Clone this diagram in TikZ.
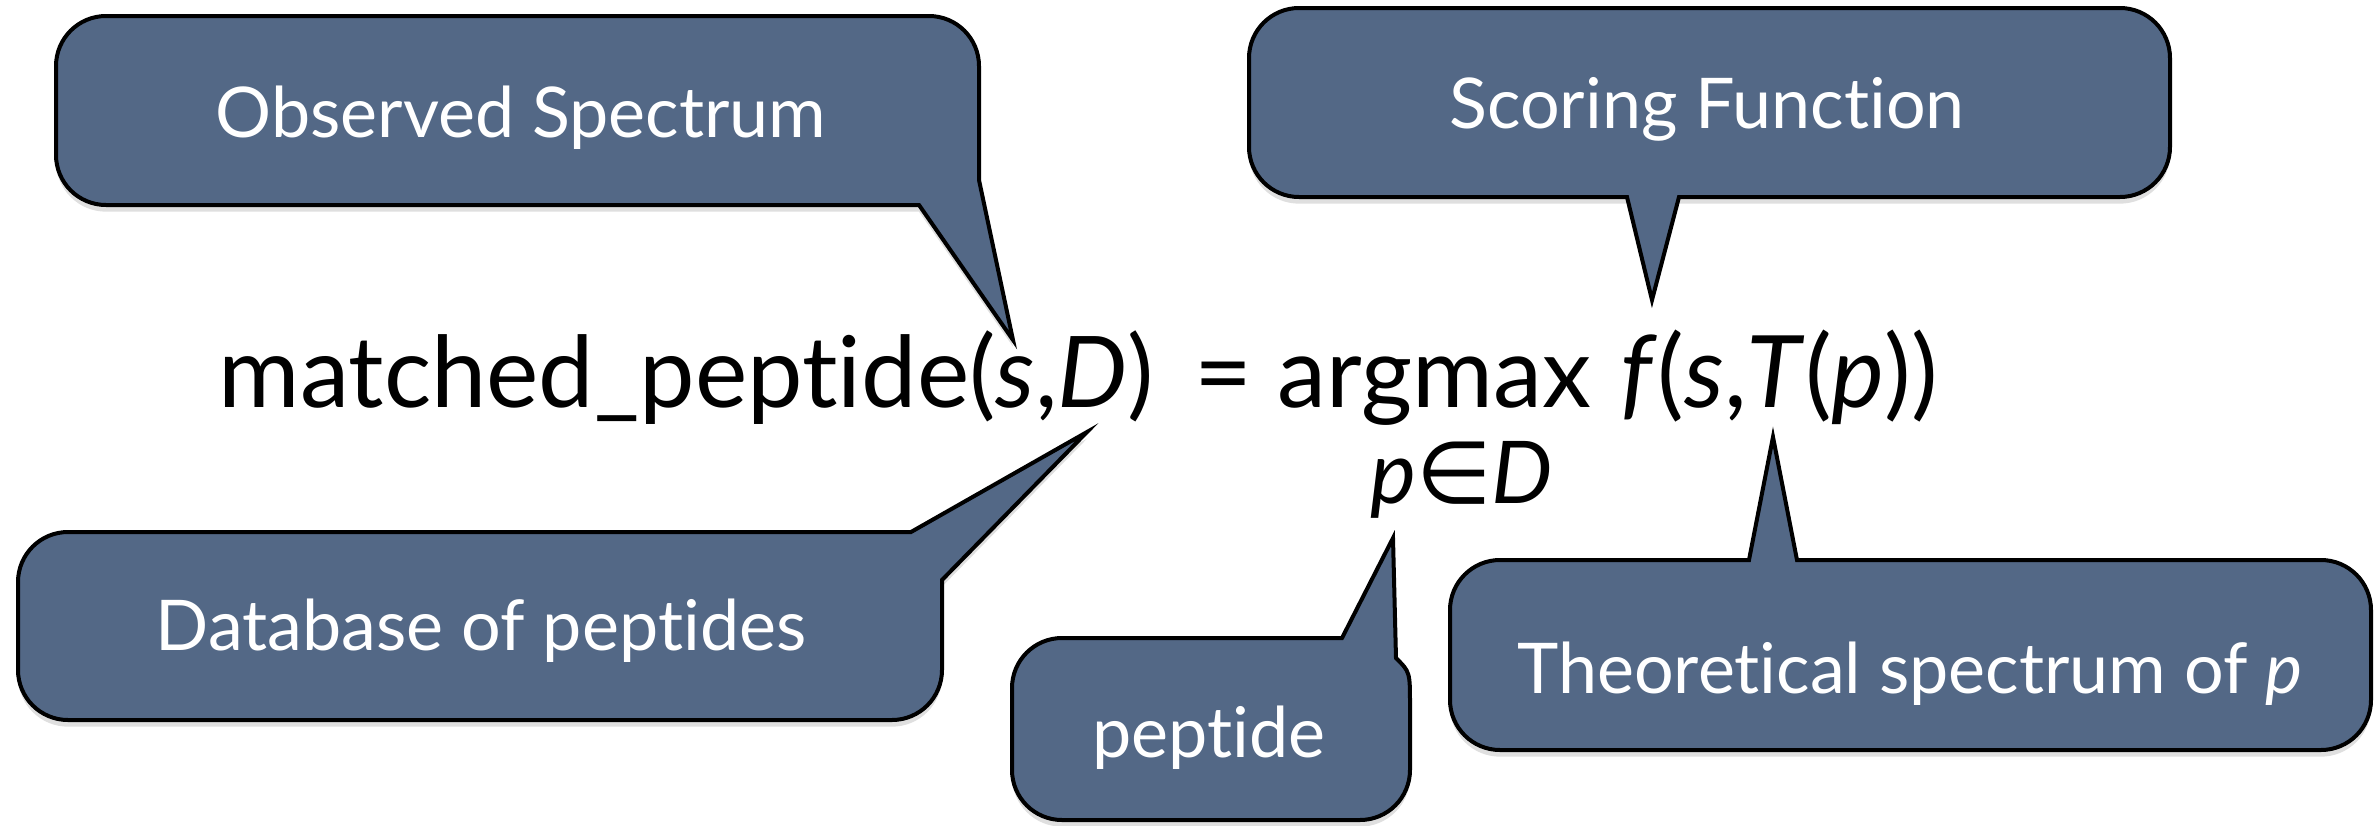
\documentclass[tikz,border=0pt]{standalone}
\usepackage{fontspec}
\setmainfont{Lato}[Ligatures=NoCommon]
\newfontfamily\symfont{DejaVu Sans}
\usetikzlibrary{shadows}
\definecolor{calloutfill}{RGB}{83,104,134}
\tikzset{
  callout/.style={draw=black, line width=1.2pt, fill=calloutfill,
    drop shadow={shadow xshift=0pt, shadow yshift=-2pt, opacity=0.25}},
  lbl/.style={text=white, inner sep=0pt, anchor=base, font=\fontsize{21}{24}\selectfont},
  formula/.style={text=black, inner sep=0pt, anchor=base west, font=\fontsize{30}{34}\selectfont},
}
\begin{document}
\begin{tikzpicture}[x=0.3pt, y=-0.3pt]
\useasboundingbox (0,0) rectangle (2375,825);
% tail tips
\coordinate (tipObs) at (1013,340);
\coordinate (tipScore) at (1652,300);
\coordinate (tipDb) at (1087,432);
\coordinate (tipPep) at (1393,538);
\coordinate (tipTh) at (1773,437);
% Observed Spectrum
\draw[callout] (500,16) [rounded corners=15pt] -- (979,16) [sharp corners] -- (979,180) -- (tipObs) -- (919,205) [rounded corners=15pt] -- (56,205) -- (56,16) -- cycle;
% Scoring Function
\draw[callout] (1700,8) [rounded corners=15pt] -- (2170,8) -- (2170,197) [sharp corners] -- (1679,197) -- (tipScore) -- (1627,197) [rounded corners=15pt] -- (1249,197) -- (1249,8) -- cycle;
% Database of peptides
\draw[callout] (480,720) [rounded corners=15pt] -- (18,720) -- (18,532) [sharp corners] -- (911,532) -- (tipDb) -- (942,580) [rounded corners=15pt] -- (942,720) -- cycle;
% peptide
\draw[callout] (1210,820) [rounded corners=15pt] -- (1012,820) -- (1012,638) [sharp corners] -- (1342,638) -- (tipPep) -- (1396,658) .. controls (1410,672) .. (1410,705) [rounded corners=15pt] -- (1410,820) -- cycle;
% Theoretical spectrum
\draw[callout] (1900,750) [rounded corners=15pt] -- (1450,750) -- (1450,560) [sharp corners] -- (1749,560) -- (tipTh) -- (1797,560) [rounded corners=15pt] -- (2371,560) -- (2371,750) -- cycle;
% labels
\node[lbl] (obsT) at (521,137) {Observed Spectrum};
\node[lbl] (scoreT) at (1707,128) {Scoring Function};
\node[lbl] (dbT) at (481,650) {Database of peptides};
\node[lbl] (pepT) at (1209,757) {peptide};
\node[lbl] (thT) at (1910,693) {Theoretical spectrum of \textit{p}};
% formula
\node[formula, font=\fontsize{29.7}{33}\selectfont] (lhs) at (218,407) {matched\_peptide(\textit{s},\textit{D})};
\node[formula, anchor=base] (eq) at (1223,407) {=};
\node[formula, font=\fontsize{29.5}{33}\selectfont] (argmax) at (1277,407) {argmax};
\node[formula] (fpart) at (1620,407) {\textit{f}(\textit{s},\textit{T}(\textit{p}))};
\node[formula, font=\fontsize{26}{30}\selectfont] (sub) at (1370,503) {\textit{p}{\symfont ∈}\textit{D}};
\end{tikzpicture}
\end{document}
